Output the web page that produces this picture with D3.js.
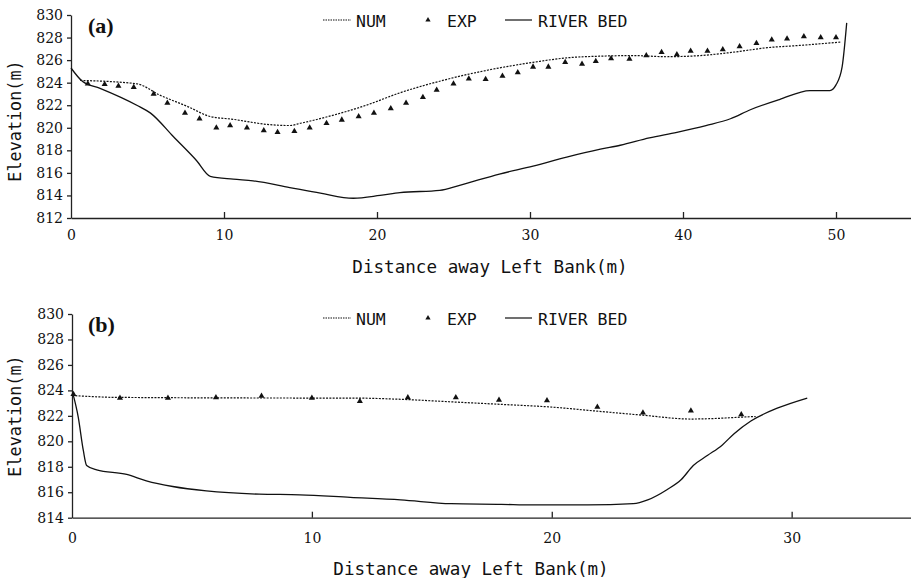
<!DOCTYPE html>
<html>
<head>
<meta charset="utf-8">
<script src="https://cdn.jsdelivr.net/npm/d3@7"></script>
<style>
  body { margin: 0; background: #fff; }
  .tick text { font-family: "DejaVu Serif", serif; font-size: 14px; fill: #111; }
  .mono { font-family: "DejaVu Sans Mono", monospace; fill: #111; }
</style>
</head>
<body>
<div class="chart"></div>
<script>
/* ---------------- data ---------------- */
// panel (a): [distance (m), elevation (m)]
var numA = [[0.6,824.2],[4.3,823.9],[5.8,822.9],[7.6,821.9],[9.1,821.0],[10.6,820.75],[12.8,820.3],
  [14.3,820.2],[15.0,820.4],[17.1,821.1],[19.3,822.0],[21.5,823.1],[24.3,824.2],[27.2,825.1],
  [30.2,825.8],[32.4,826.2],[34.6,826.35],[36.8,826.4],[38.9,826.3],[41.1,826.4],[43.3,826.7],
  [45.5,827.1],[47.6,827.3],[50.3,827.6]];
var expA = [[1.1,823.9],[2.2,823.85],[3.1,823.7],[4.1,823.6],[5.4,823.0],[6.3,822.2],[7.45,821.3],
  [8.4,820.8],[9.5,820.0],[10.4,820.2],[11.5,820.0],[12.6,819.75],[13.5,819.6],[14.6,819.7],
  [15.6,820.0],[16.7,820.4],[17.7,820.7],[18.8,821.0],[19.8,821.3],[20.9,821.7],[21.9,822.2],
  [23.0,822.7],[23.9,823.35],[25.0,823.9],[26.0,824.35],[27.1,824.3],[28.2,824.6],[29.2,824.9],
  [30.2,825.4],[31.2,825.4],[32.3,825.8],[33.4,825.65],[34.3,825.9],[35.3,826.15],[36.5,826.1],
  [37.6,826.4],[38.6,826.7],[39.6,826.5],[40.5,826.8],[41.6,826.8],[42.6,826.95],[43.7,827.2],
  [44.8,827.5],[45.8,827.8],[46.8,827.9],[47.9,828.1],[49.0,828.0],[50.0,828.0]];
var bedA = [[0,825.3],[0.76,824.1],[1.9,823.5],[4.3,822.0],[5.2,821.3],[6.7,819.2],[8.2,817.1],
  [9.1,815.7],[10.6,815.45],[11.9,815.3],[14.3,814.7],[16.3,814.2],[18.45,813.75],[20.2,814.0],
  [21.5,814.25],[24.1,814.45],[25.4,814.9],[28.0,815.9],[30.2,816.6],[32.4,817.4],[34.6,818.1],
  [35.9,818.45],[37.8,819.1],[39.6,819.6],[41.5,820.2],[43.1,820.8],[44.4,821.6],[46.3,822.5],
  [48.3,823.3],[49.6,823.3],[50.0,823.8],[50.4,825.4],[50.7,829.3]];

// panel (b)
var numB = [[0,823.6],[1.9,823.45],[9.5,823.4],[11.6,823.4],[13.7,823.3],[15.8,823.1],[17.9,822.9],
  [19.9,822.7],[22.0,822.35],[23.8,822.05],[25.8,821.75],[26.9,821.8],[27.9,821.9],[28.5,821.95]];
var expB = [[0.06,823.7],[2.0,823.4],[4.0,823.4],[6.0,823.45],[7.9,823.55],[10.0,823.4],[12.0,823.15],
  [14.0,823.45],[16.0,823.45],[17.8,823.25],[19.8,823.2],[21.9,822.7],[23.8,822.25],[25.8,822.4],
  [27.9,822.1]];
var bedB = [[0.03,823.8],[0.26,821.9],[0.47,819.3],[0.61,818.1],[1.03,817.75],[2.28,817.4],[3.1,816.9],
  [4.2,816.45],[5.6,816.1],[7.8,815.85],[9.5,815.8],[11.6,815.6],[13.7,815.4],[15.8,815.1],
  [17.9,815.05],[19.2,815.0],[21.5,815.0],[23.4,815.1],[24.0,815.4],[24.8,816.2],[25.4,817.0],
  [25.9,818.1],[26.5,818.9],[27.1,819.7],[27.6,820.6],[28.3,821.6],[29.4,822.6],[30.65,823.4]];

var xTicksA = [0, 10, 20, 30, 40, 50];
var yTicksA = [812, 814, 816, 818, 820, 822, 824, 826, 828, 830];
var xTicksB = [0, 10, 20, 30];
var yTicksB = [814, 816, 818, 820, 822, 824, 826, 828, 830];
var legendLabels = ["NUM", "EXP", "RIVER BED"];

/* ---------------- chart space ---------------- */
var svg = d3.select(".chart").append("svg")
    .attr("width", 911)
    .attr("height", 578);

function drawPanel(p) {
    var x = d3.scaleLinear().domain(p.xDom).range([p.left, p.right]);
    var y = d3.scaleLinear().domain(p.yDom).range([p.bottom, p.top]);
    var g = svg.append("g");

    // axes
    var xAxis = g.append("g")
        .attr("transform", `translate(0, ${p.bottom})`)
        .call(d3.axisBottom(x).tickValues(p.xTicks).tickFormat(d3.format("d"))
            .tickSizeInner(-6).tickSizeOuter(0).tickPadding(p.xPad));
    var yAxis = g.append("g")
        .attr("transform", `translate(${p.left}, 0)`)
        .call(d3.axisLeft(y).tickValues(p.yTicks).tickFormat(d3.format("d"))
            .tickSizeInner(4).tickSizeOuter(0).tickPadding(4));
    g.selectAll(".domain, .tick line").attr("stroke", "#222").attr("stroke-width", 1.3);
    xAxis.selectAll(".tick").filter(d => d === 0).select("line").remove();

    // lines
    var line = d3.line().x(d => x(d[0])).y(d => y(d[1])).curve(d3.curveMonotoneX);
    g.append("path").datum(p.bed)
        .attr("d", line).attr("fill", "none")
        .attr("stroke", "#111").attr("stroke-width", 1.3);
    g.append("path").datum(p.num)
        .attr("d", line).attr("fill", "none")
        .attr("stroke", "#111").attr("stroke-width", 1.2)
        .attr("stroke-dasharray", "2,1.3");

    // experiment triangles
    var tri = d3.symbol().type(d3.symbolTriangle).size(16);
    g.selectAll(".exp").data(p.exp).enter().append("path")
        .attr("class", "exp")
        .attr("d", tri)
        .attr("transform", d => `translate(${x(d[0])}, ${y(d[1])})`)
        .attr("fill", "#111");

    // legend
    var ly = p.legendY;
    g.append("line").attr("x1", 323).attr("x2", 351).attr("y1", ly).attr("y2", ly)
        .attr("stroke", "#111").attr("stroke-width", 1.1).attr("stroke-dasharray", "1.5,1");
    g.append("path").attr("d", d3.symbol().type(d3.symbolTriangle).size(12))
        .attr("transform", `translate(428, ${ly})`).attr("fill", "#111");
    g.append("line").attr("x1", 505).attr("x2", 532).attr("y1", ly).attr("y2", ly)
        .attr("stroke", "#111").attr("stroke-width", 1.2);
    g.selectAll(".leg").data(legendLabels).enter().append("text")
        .attr("class", "mono")
        .attr("x", (d, i) => [356, 447, 538][i])
        .attr("y", ly + 6.5)
        .style("font-size", "16.5px")
        .text(d => d);

    // panel tag
    g.append("text")
        .attr("x", 88).attr("y", p.top + 18)
        .style("font-family", "Liberation Serif, serif")
        .style("font-weight", "bold")
        .style("font-size", "22px")
        .attr("fill", "#111")
        .text(p.tag);

    // axis titles
    g.append("text")
        .attr("class", "mono")
        .attr("x", p.xTitleX).attr("y", p.xTitleY)
        .attr("text-anchor", "middle")
        .style("font-size", "17.6px")
        .text("Distance away Left Bank(m)");
    g.append("text")
        .attr("class", "mono")
        .attr("transform", `translate(21, ${p.yTitleY}) rotate(-90)`)
        .attr("text-anchor", "middle")
        .style("font-size", "16.8px")
        .text("Elevation(m)");
}

drawPanel({
    tag: "(a)", xDom: [0, 55], yDom: [812, 830], left: 71, right: 912.5, top: 15, bottom: 218,
    xTicks: xTicksA, yTicks: yTicksA, xPad: 12, num: numA, exp: expA, bed: bedA,
    legendY: 20, xTitleX: 490, xTitleY: 273, yTitleY: 121
});
drawPanel({
    tag: "(b)", xDom: [0, 35], yDom: [814, 830], left: 72, right: 911.6, top: 314, bottom: 517.7,
    xTicks: xTicksB, yTicks: yTicksB, xPad: 15, num: numB, exp: expB, bed: bedB,
    legendY: 318, xTitleX: 471, xTitleY: 575, yTitleY: 416
});
</script>
</body>
</html>
